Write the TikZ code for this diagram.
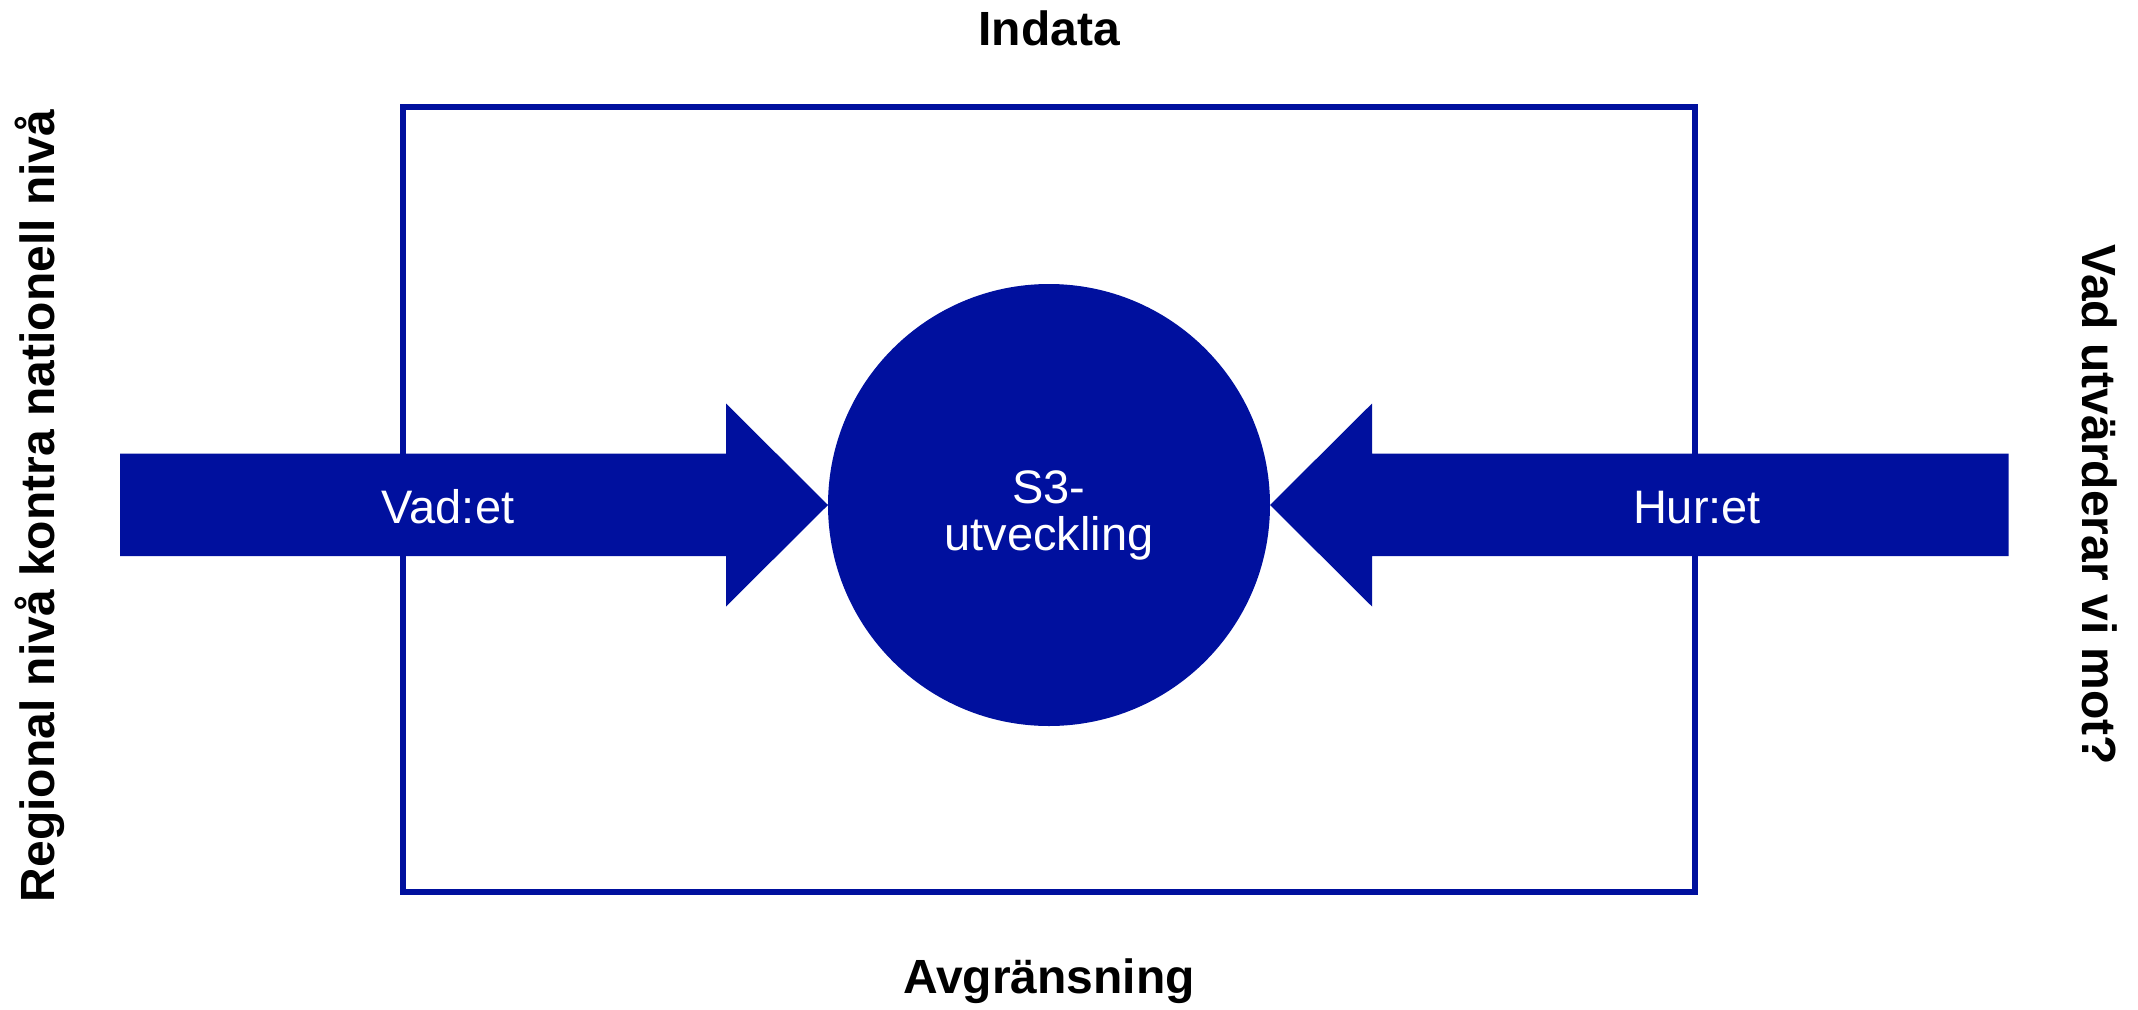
\documentclass[tikz,border=0pt]{standalone}
\usepackage{fontspec}
\setmainfont{Liberation Sans}
\definecolor{navy}{RGB}{0,16,158}
\begin{document}
\begin{tikzpicture}[x=1pt,y=-1pt,
  boldlabel/.style={font=\fontsize{48}{56}\selectfont\bfseries, text=black, inner sep=0pt},
  wlabel/.style={font=\fontsize{47}{47}\selectfont, text=white, inner sep=0pt, align=center},
  navyfill/.style={fill=navy, draw=none}]
\useasboundingbox (0,0) rectangle (2138,1009);
% frame
\draw[navy, line width=6pt] (403,107) rectangle (1695,892);
% circle
\node[circle, navyfill, minimum size=442pt, inner sep=0pt] (c) at (1049,505) {};
% left arrow
\fill[navyfill] (120,453.5) -- (726,453.5) -- (726,403.5) -- (828,505) -- (726,606.5) -- (726,556) -- (120,556) -- cycle;
% right arrow
\fill[navyfill] (2008.5,453.5) -- (1372,453.5) -- (1372,403.5) -- (1270,505) -- (1372,606.5) -- (1372,556) -- (2008.5,556) -- cycle;
% labels
\node[wlabel, anchor=base] (vad) at (448,523) {Vad:et};
\node[wlabel, anchor=base] (hur) at (1697,523) {Hur:et};
\node[wlabel, anchor=base] (s3a) at (1049,503) {S3-};
\node[wlabel, anchor=base] (s3b) at (1049,550) {utveckling};
\node[boldlabel, anchor=base] (indata) at (1049,45) {Indata};
\node[boldlabel, anchor=base] (avgr) at (1049,993) {Avgränsning};
\node[boldlabel, rotate=90, anchor=base] (reg) at (54,506) {Regional nivå kontra nationell nivå};
\node[boldlabel, rotate=-90, anchor=base] (vut) at (2082,505) {Vad utvärderar vi mot?};
\end{tikzpicture}
\end{document}
